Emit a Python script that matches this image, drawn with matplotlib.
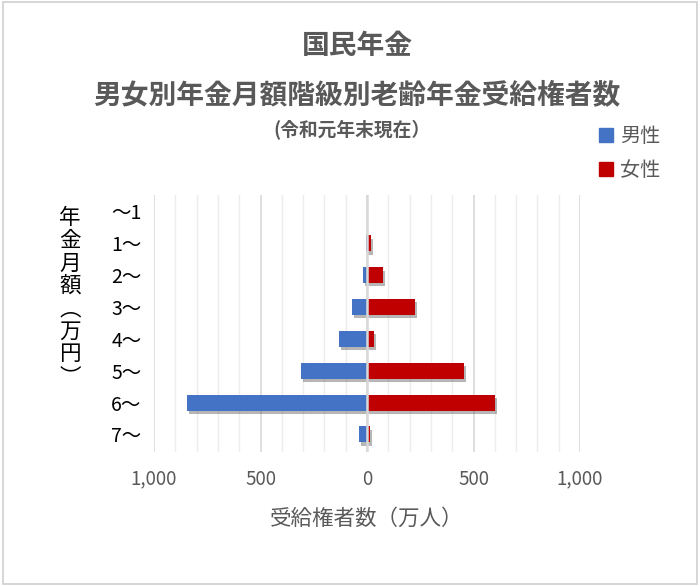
import numpy as np
import matplotlib.pyplot as plt
from matplotlib import patheffects as pe
from matplotlib.ticker import FuncFormatter, MultipleLocator
from matplotlib.patches import Rectangle, Patch

plt.rcParams['font.family'] = ['Noto Sans CJK JP', 'DejaVu Sans']

# data (万人)
categories = ['～1', '1～', '2～', '3～', '4～', '5～', '6～', '7～']
men = [1, 5, 20, 70, 130, 310, 846, 38]
women = [1, 20, 75, 225, 33, 455, 600, 12]

txt = '#595959'
blue = '#4472C4'
red = '#C00000'

fig = plt.figure(figsize=(7, 5.86), dpi=100)
fig.patches.append(Rectangle((0.004, 0.003), 0.992, 0.994, transform=fig.transFigure,
                             fill=False, edgecolor='#D0D0D0', lw=1.2))

ax = fig.add_axes([0.22, 0.2287, 0.6086, 0.438])
y = np.arange(len(categories))
shadow = [pe.SimplePatchShadow(offset=(1.5, -2.5), alpha=0.35, shadow_rgbFace='#303030'), pe.Normal()]

b1 = ax.barh(y, -np.array(men), height=0.5, color=blue, zorder=2)
b2 = ax.barh(y, women, height=0.5, color=red, zorder=2)
for b in list(b1) + list(b2):
    b.set_path_effects(shadow)

ax.axvline(0, color='#D9D9D9', lw=1.8, zorder=3)
ax.set_xlim(-1000, 1000)
ax.set_ylim(7.55, -0.5)
ax.set_yticks(y)
ax.set_yticklabels(categories, fontsize=14, color='black')
ax.xaxis.set_major_locator(MultipleLocator(500))
ax.xaxis.set_minor_locator(MultipleLocator(100))
ax.xaxis.set_major_formatter(FuncFormatter(lambda v, p: f'{abs(v):,.0f}'))
ax.tick_params(axis='x', labelsize=13.5, labelcolor=txt, length=0, pad=12, which='both')
ax.tick_params(axis='y', length=0, pad=9)
ax.grid(axis='x', which='major', color='#D9D9D9', lw=1.2, zorder=0)
ax.grid(axis='x', which='minor', color='#EDEDED', lw=1.0, zorder=0)
for s in ax.spines.values():
    s.set_visible(False)
ax.set_axisbelow(True)

ax.set_xlabel('受給権者数（万人）', fontsize=15.5, color=txt, labelpad=13)

# vertical y-axis title
fig.text(0.1, 0.492, '年\n金\n月\n額\n︵\n万\n円\n︶', fontsize=15.5, color='black',
         ha='center', va='center', linespacing=1.04)

fig.text(0.51, 0.922, '国民年金', fontsize=20, fontweight='bold', color=txt, ha='center', va='center')
fig.text(0.51, 0.837, '男女別年金月額階級別老齢年金受給権者数', fontsize=20, fontweight='bold',
         color=txt, ha='center', va='center')
fig.text(0.503, 0.778, '(令和元年末現在）', fontsize=13.5, fontweight='bold', color=txt,
         ha='center', va='center')

handles = [Patch(color=blue, label='男性'), Patch(color=red, label='女性')]
fig.legend(handles=handles, loc='upper left', bbox_to_anchor=(0.842, 0.802),
           frameon=False, fontsize=14.5, labelcolor=txt, handlelength=0.65, handleheight=0.65,
           handletextpad=0.35, labelspacing=0.65, borderpad=0)

fig.savefig('out.png', dpi=100)
